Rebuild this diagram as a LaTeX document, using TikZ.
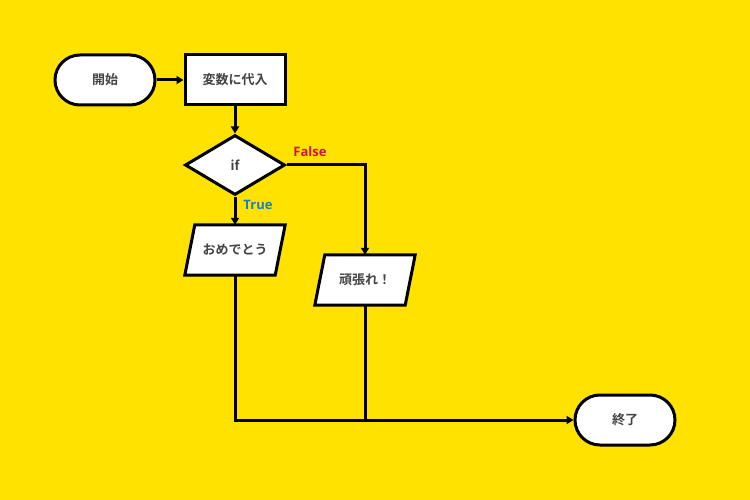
\documentclass[tikz,border=0pt]{standalone}
\usepackage{fontspec}
\newfontfamily\jp{Noto Sans CJK JP}[BoldFont={* Bold}]
\setmainfont{Open Sans}
\usetikzlibrary{shapes.geometric,calc,arrows.meta}
\definecolor{bg}{HTML}{FFE200}
\definecolor{tx}{HTML}{444444}
\definecolor{fr}{HTML}{D0124A}
\definecolor{tb}{HTML}{1A7EC2}
\begin{document}
\begin{tikzpicture}[x=1pt,y=-1pt,
  every node/.style={font=\jp\bfseries\fontsize{13}{15}\selectfont,text=tx},
  box/.style={draw,line width=3pt,fill=white,minimum width=100pt,minimum height=50pt,inner sep=0},
  term/.style={box,rounded corners=25pt},
  hid/.style={minimum width=100pt,minimum height=50pt,inner sep=0},
  ln/.style={line width=3pt},
  ar/.style={ln,-{Triangle[length=7pt,width=8pt]}},
  lab/.style={font=\rmfamily\bfseries\fontsize{13}{15}\selectfont}]
\fill[bg] (0,0) rectangle (750,500);
\node[term] (start) at (105,80) {開始};
\node[box] (assign) at (235,80) {変数に代入};
\node[diamond,draw,line width=3pt,fill=white,minimum width=100pt,minimum height=60pt,inner sep=0,aspect=1.67] (if) at (235,165) {if};
\node[hid] (ok) at (235,250) {};
\node[hid] (ng) at (365,280) {};
\foreach \n in {ok,ng}{
  \draw[ln,fill=white,line join=miter] ($(\n.north west)+(10,0)$) -- (\n.north east) -- ($(\n.south east)+(-10,0)$) -- (\n.south west) -- cycle;}
\node at (ok) {おめでとう};
\node at (ng) {頑張れ！};
\node[term] (end) at (625,420) {終了};
\coordinate (j1) at (235,420);
\coordinate (j2) at (365,420);
\coordinate (fc) at (365,165);
\draw[ar] (start) -- (assign);
\draw[ar] (assign) -- (if);
\draw[ar] (if.south) -- (ok.north);
\draw[ar,line join=miter] (if.east) -- (fc) -- (ng.north);
\draw[ln,line join=miter] (ok.south) -- (j1) -- (j2);
\draw[ar] (j2) -- (end.west);
\draw[ln] (ng.south) -- (j2);
\node[lab,text=fr] (fl) at (310,152) {False};
\node[lab,text=tb] (tl) at (258,205) {True};
\end{tikzpicture}
\end{document}
